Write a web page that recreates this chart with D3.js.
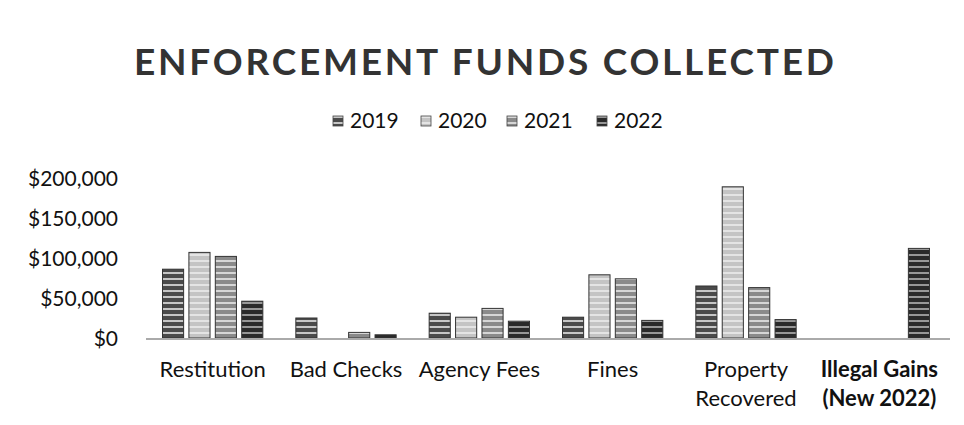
<!DOCTYPE html>
<html>
<head>
<meta charset="utf-8">
<script src="https://cdn.jsdelivr.net/npm/d3@7"></script>
<style>
  body { margin: 0; background: #fff; }
  text { font-family: Lato, "Open Sans", sans-serif; fill: #111; }
</style>
</head>
<body>
<div id="chart"></div>
<script>
const categories = ['Restitution', 'Bad Checks', 'Agency Fees', 'Fines', 'Property Recovered', 'Illegal Gains (New 2022)'];
const categoryLines = [['Restitution'], ['Bad Checks'], ['Agency Fees'], ['Fines'], ['Property', 'Recovered'], ['Illegal Gains', '(New 2022)']];
const years = ['2019', '2020', '2021', '2022'];
const values2019 = [86000, 25000, 31000, 26000, 65000, 0];
const values2020 = [107000, 0, 26000, 79000, 189000, 0];
const values2021 = [102000, 7000, 37000, 74000, 63000, 0];
const values2022 = [46000, 4000, 21000, 22000, 23000, 112000];
const yTicks = [0, 50000, 100000, 150000, 200000];

const series = [values2019, values2020, values2021, values2022];
const fills = ['#4a4a4a', '#c4c4c4', '#8a8a8a', '#2a2a2a'];

const width = 964;
const height = 425;

const svg = d3.select('#chart')
    .append('svg')
    .attr('width', width)
    .attr('height', height);

// striped fills, like the scanned bars
const defs = svg.append('defs');
years.forEach((yr, i) => {
    const p = defs.append('pattern')
        .attr('id', 'pat' + yr)
        .attr('patternUnits', 'userSpaceOnUse')
        .attr('width', 8)
        .attr('height', 6);
    p.append('rect').attr('width', 8).attr('height', 6).attr('fill', fills[i]);
    p.append('rect').attr('y', 2).attr('width', 8).attr('height', 2)
        .attr('fill', i === 3 ? '#bbb' : '#eee').attr('opacity', 0.75);
});

svg.append('text')
    .attr('x', 484)
    .attr('y', 75)
    .attr('text-anchor', 'middle')
    .attr('textLength', 700)
    .attr('lengthAdjust', 'spacing')
    .style('font-size', '37px')
    .style('font-weight', 'bold')
    .style('fill', '#333')
    .text('ENFORCEMENT FUNDS COLLECTED');

// legend
const legendX = [333, 421, 507, 597];
const legend = svg.append('g');
years.forEach((yr, i) => {
    legend.append('rect')
        .attr('x', legendX[i])
        .attr('y', 116)
        .attr('width', 10)
        .attr('height', 10)
        .attr('fill', `url(#pat${yr})`)
        .attr('stroke', '#444')
        .attr('stroke-width', 0.8);
    legend.append('text')
        .attr('x', legendX[i] + 17)
        .attr('y', 128)
        .style('font-size', '21px')
        .text(yr);
});

const x0 = d3.scaleBand()
    .domain(categories)
    .range([146, 946]);

const x1 = d3.scaleBand()
    .domain(years)
    .range([16.5, x0.bandwidth() - 16.5])
    .paddingInner(0.2);

const y = d3.scaleLinear()
    .domain([0, 200000])
    .range([338, 178]);

const yAxis = svg.append('g')
    .attr('transform', 'translate(118,0)')
    .call(d3.axisLeft(y).tickValues(yTicks).tickSize(0).tickPadding(0)
        .tickFormat(d => '$' + d3.format(',')(d)));
yAxis.select('.domain').remove();
yAxis.selectAll('text')
    .style('font-size', '21px')
    .attr('dy', '0.35em');

// bars
const groups = svg.selectAll('.grp')
    .data(categories)
    .join('g')
    .attr('class', 'grp')
    .attr('transform', d => `translate(${x0(d)},0)`);

groups.selectAll('rect')
    .data((d, ci) => years.map((yr, si) => ({ yr, v: series[si][ci] })))
    .join('rect')
    .filter(d => d.v > 0)
    .attr('x', d => x1(d.yr))
    .attr('y', d => y(d.v))
    .attr('width', x1.bandwidth())
    .attr('height', d => y(0) - y(d.v))
    .attr('fill', d => `url(#pat${d.yr})`)
    .attr('stroke', '#333')
    .attr('stroke-width', 1);

// baseline
svg.append('line')
    .attr('x1', 146)
    .attr('x2', 950)
    .attr('y1', y(0) + 1)
    .attr('y2', y(0) + 1)
    .attr('stroke', '#aaa')
    .attr('stroke-width', 2);

const xAxis = svg.append('g')
    .attr('transform', `translate(0,${y(0)})`)
    .call(d3.axisBottom(x0).tickSize(0));
xAxis.select('.domain').remove();
xAxis.selectAll('text').each(function (d, i) {
    const t = d3.select(this).text('').attr('y', 0).attr('dy', null).style('font-size', '22px');
    categoryLines[i].forEach((line, k) => {
        t.append('tspan')
            .attr('x', 0)
            .attr('y', 39 + k * 29)
            .text(line);
    });
});
xAxis.selectAll('text').filter((d, i) => i === 5).style('font-weight', 'bold');
</script>
</body>
</html>
